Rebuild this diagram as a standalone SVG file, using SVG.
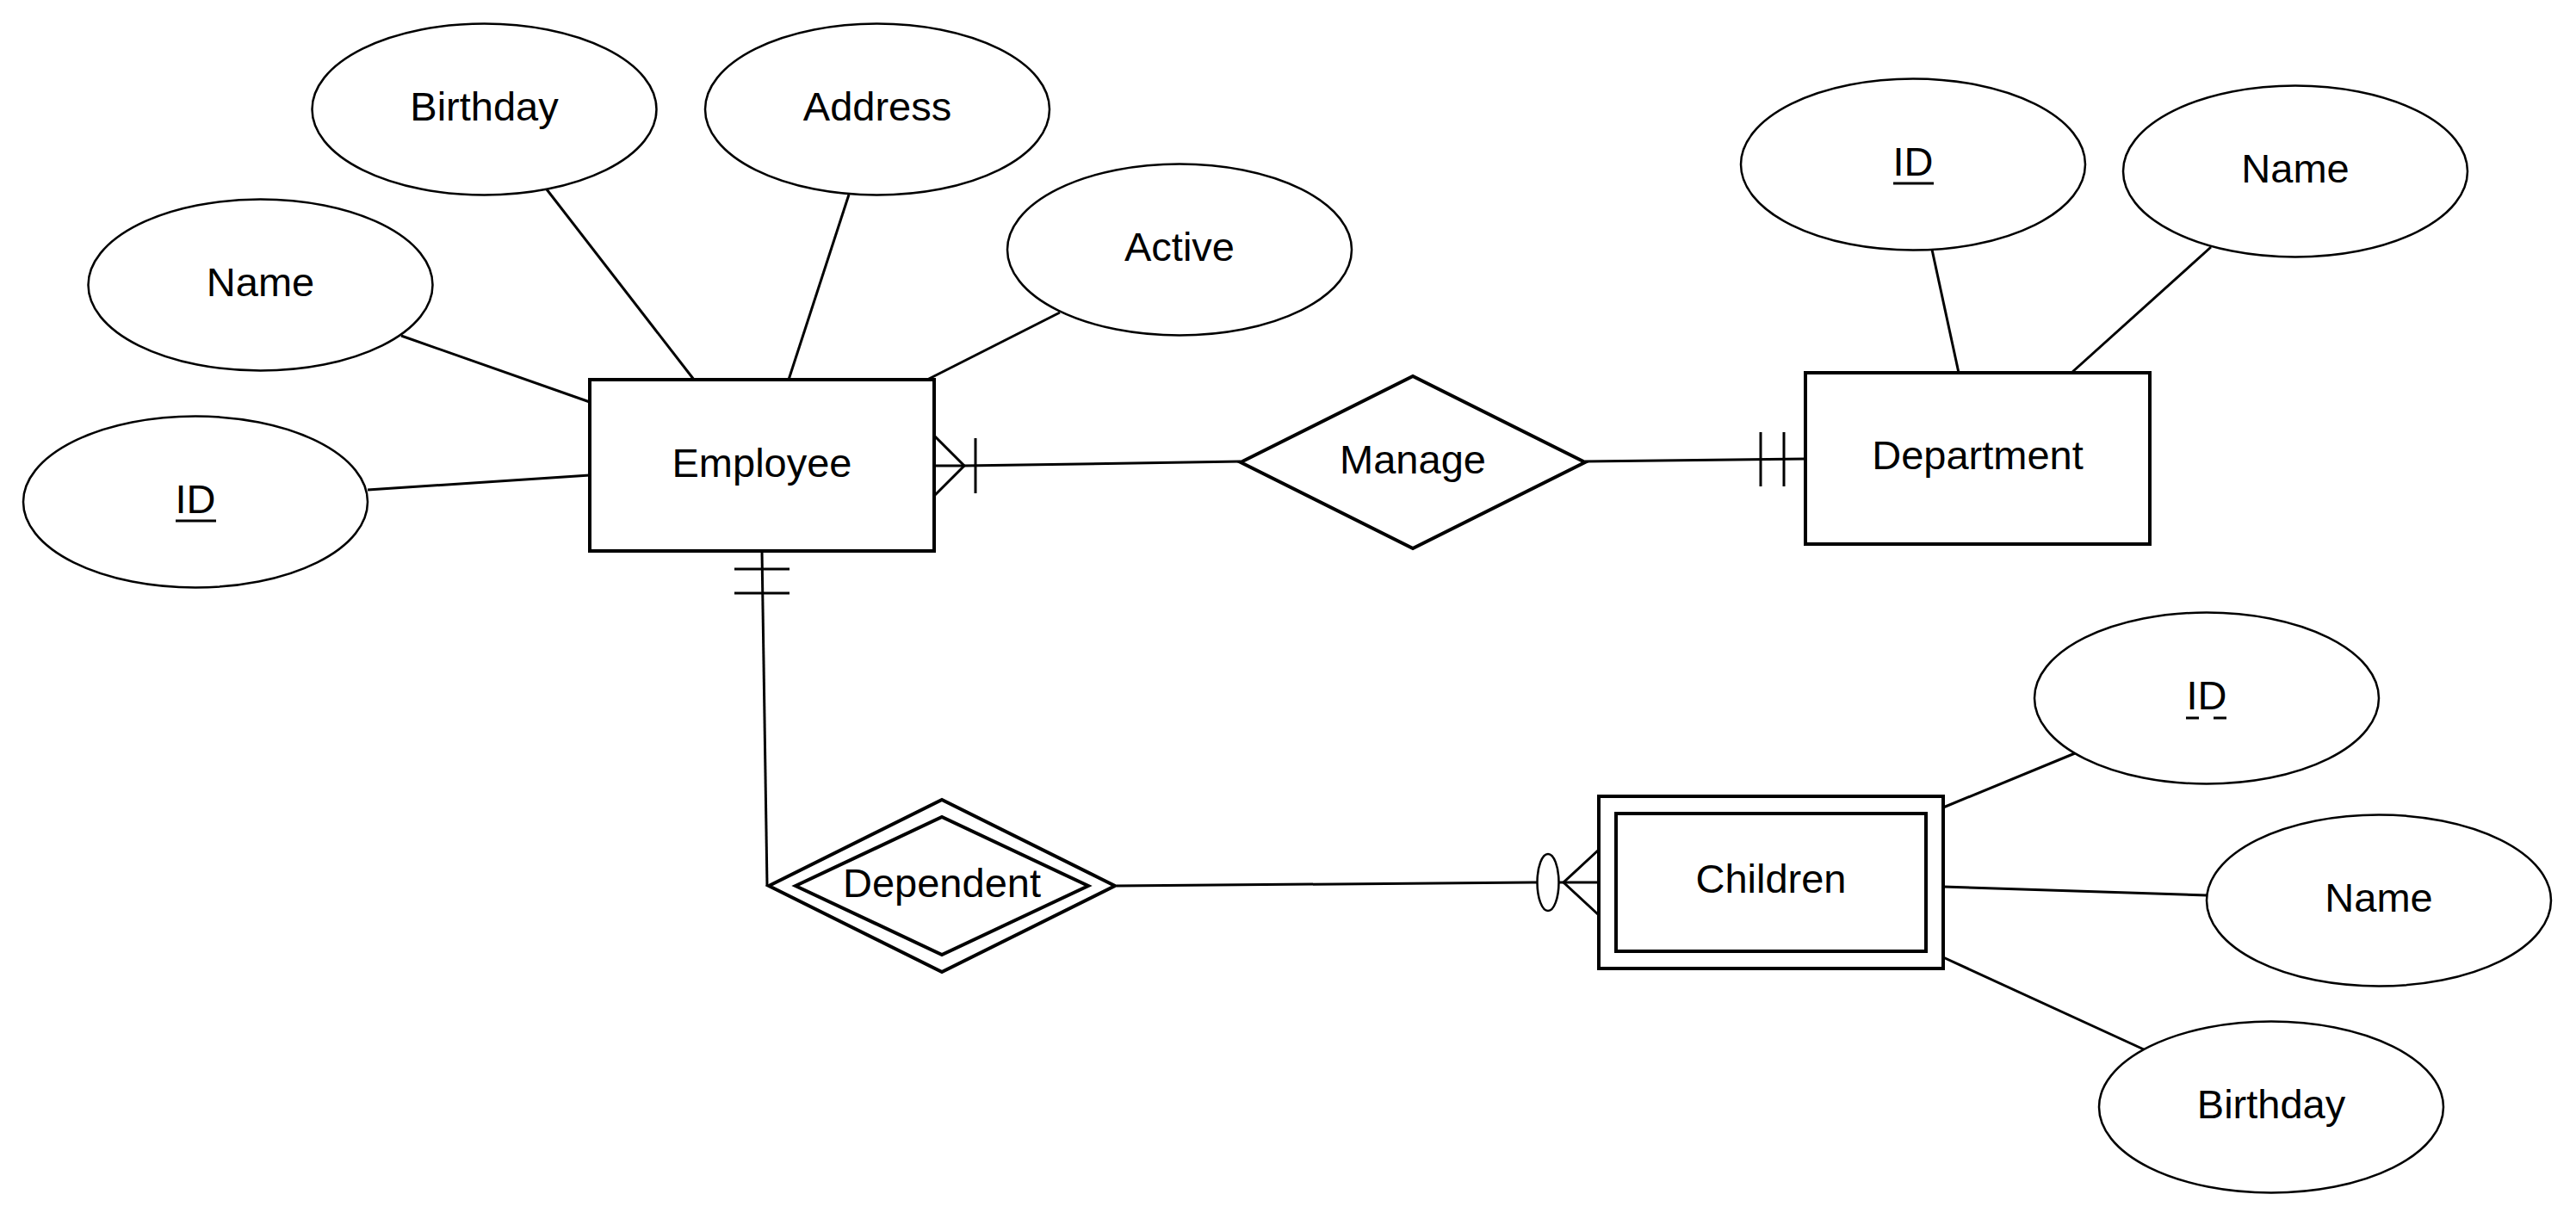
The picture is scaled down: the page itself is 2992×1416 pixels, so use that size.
<svg xmlns="http://www.w3.org/2000/svg" width="2992" height="1416" viewBox="0 0 2992 1416">
<style>
.attr{fill:#fff;stroke:#000;stroke-width:2.5}
.ent{fill:#fff;stroke:#000;stroke-width:4}
.rel{fill:#fff;stroke:#000;stroke-width:4;stroke-linejoin:miter}
.lbl{font-family:"Liberation Sans",Arial,sans-serif;font-size:47px;fill:#000;text-anchor:middle}
.ln{fill:none;stroke:#000;stroke-width:3}
.ul{stroke:#000;stroke-width:3}
</style>
<rect width="2992" height="1416" fill="#fff"/>
<g id="connectors">
  <line class="ln" x1="427" y1="569" x2="685" y2="552"/>
  <line class="ln" x1="466" y1="390" x2="685" y2="467"/>
  <line class="ln" x1="635" y1="220" x2="806" y2="441"/>
  <line class="ln" x1="986" y1="226" x2="916" y2="441"/>
  <line class="ln" x1="1231" y1="363" x2="1077" y2="441"/>
  <!-- Employee - Manage -->
  <line class="ln" x1="1085" y1="541" x2="1120" y2="541"/>
  <line class="ln" x1="1120" y1="541" x2="1441" y2="536"/>
  <polyline class="ln" points="1085,506 1120,541 1085,576"/>
  <line class="ln" x1="1133" y1="509" x2="1133" y2="573"/>
  <!-- Manage - Department -->
  <line class="ln" x1="1841" y1="536" x2="2097" y2="533"/>
  <line class="ln" x1="2045" y1="502" x2="2045" y2="565"/>
  <line class="ln" x1="2072" y1="502" x2="2072" y2="565"/>
  <!-- Employee - Dependent -->
  <line class="ln" x1="885" y1="640" x2="891" y2="1029"/>
  <line class="ln" x1="853" y1="661" x2="917" y2="661"/>
  <line class="ln" x1="853" y1="689" x2="917" y2="689"/>
  <!-- Dependent - Children -->
  <line class="ln" x1="1297" y1="1029" x2="1785" y2="1025"/>
  <line class="ln" x1="1810" y1="1025" x2="1857" y2="1025"/>
  <polyline class="ln" points="1857,987 1816,1025 1857,1063"/>
  <ellipse cx="1798" cy="1025" rx="12.5" ry="33" fill="#fff" stroke="#000" stroke-width="2.5"/>
  <!-- Children attributes -->
  <line class="ln" x1="2257" y1="938" x2="2410" y2="875"/>
  <line class="ln" x1="2257" y1="1030" x2="2563" y2="1040"/>
  <line class="ln" x1="2257" y1="1112" x2="2490" y2="1219"/>
  <!-- Department attributes -->
  <line class="ln" x1="2244" y1="290" x2="2275" y2="433"/>
  <line class="ln" x1="2568" y1="287" x2="2406" y2="433"/>
</g>
<g id="employee">
  <rect class="ent" x="685" y="441" width="400" height="199"/>
  <text class="lbl" x="885" y="554">Employee</text>
</g>
<g id="emp-id">
  <ellipse class="attr" cx="227" cy="583" rx="200" ry="99.5"/>
  <text class="lbl" x="227" y="596">ID</text>
  <line class="ul" x1="204" y1="605" x2="251" y2="605"/>
</g>
<g id="emp-name">
  <ellipse class="attr" cx="302.5" cy="331" rx="200" ry="99.5"/>
  <text class="lbl" x="302.5" y="344">Name</text>
</g>
<g id="emp-birthday">
  <ellipse class="attr" cx="562.5" cy="127" rx="200" ry="99.5"/>
  <text class="lbl" x="562.5" y="140">Birthday</text>
</g>
<g id="emp-address">
  <ellipse class="attr" cx="1019" cy="127" rx="200" ry="99.5"/>
  <text class="lbl" x="1019" y="140">Address</text>
</g>
<g id="emp-active">
  <ellipse class="attr" cx="1370" cy="290" rx="200" ry="99.5"/>
  <text class="lbl" x="1370" y="303">Active</text>
</g>
<g id="manage">
  <polygon class="rel" points="1441,537 1641,437 1841,537 1641,637"/>
  <text class="lbl" x="1641" y="550">Manage</text>
</g>
<g id="department">
  <rect class="ent" x="2097" y="433" width="400" height="199"/>
  <text class="lbl" x="2297" y="545">Department</text>
</g>
<g id="dept-id">
  <ellipse class="attr" cx="2222" cy="191" rx="200" ry="99.5"/>
  <text class="lbl" x="2222" y="204">ID</text>
  <line class="ul" x1="2199" y1="213" x2="2246" y2="213"/>
</g>
<g id="dept-name">
  <ellipse class="attr" cx="2666" cy="199" rx="200" ry="99.5"/>
  <text class="lbl" x="2666" y="212">Name</text>
</g>
<g id="dependent">
  <polygon class="rel" points="893,1029 1094,929 1295,1029 1094,1129"/>
  <polygon class="rel" points="924,1029 1094,949 1264,1029 1094,1109"/>
  <text class="lbl" x="1094" y="1042">Dependent</text>
</g>
<g id="children">
  <rect class="ent" x="1857" y="925" width="400" height="200"/>
  <rect class="ent" x="1877" y="945" width="360" height="160"/>
  <text class="lbl" x="2057" y="1037">Children</text>
</g>
<g id="child-id">
  <ellipse class="attr" cx="2563" cy="811" rx="200" ry="99.5"/>
  <text class="lbl" x="2563" y="824">ID</text>
  <line class="ul" x1="2539" y1="834" x2="2587" y2="834" stroke-dasharray="15 17"/>
</g>
<g id="child-name">
  <ellipse class="attr" cx="2763" cy="1046" rx="200" ry="99.5"/>
  <text class="lbl" x="2763" y="1059">Name</text>
</g>
<g id="child-birthday">
  <ellipse class="attr" cx="2638" cy="1286" rx="200" ry="99.5"/>
  <text class="lbl" x="2638" y="1299">Birthday</text>
</g>
</svg>
